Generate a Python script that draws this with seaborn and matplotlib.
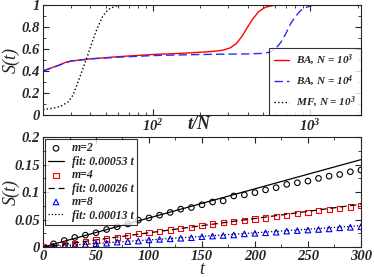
import numpy as np
import pandas as pd
import matplotlib
matplotlib.use("Agg")
import matplotlib.pyplot as plt
from matplotlib.ticker import FuncFormatter, MultipleLocator, LogLocator, NullFormatter
import seaborn as sns

# top panel: S(t) versus t/N (log axis)
t_ba3 = [20, 25, 28, 30, 40, 60, 100, 150, 200, 250, 280, 310, 340, 370, 400, 430, 470, 520, 600, 2000]
s_ba3 = [0.40, 0.45, 0.48, 0.49, 0.51, 0.53, 0.55, 0.56, 0.57, 0.58, 0.59, 0.61, 0.65, 0.72, 0.80, 0.87, 0.94, 0.98, 1.0, 1.0]
t_ba4 = [20, 25, 30, 40, 60, 100, 200, 400, 500, 550, 600, 650, 700, 750, 800, 870, 950, 1050, 2000]
s_ba4 = [0.40, 0.45, 0.49, 0.51, 0.525, 0.54, 0.55, 0.555, 0.56, 0.57, 0.60, 0.66, 0.74, 0.83, 0.89, 0.95, 0.98, 1.0, 1.0]
t_mf = [20, 23, 26, 29, 31, 33, 35, 38, 41, 44, 48, 52, 58, 65, 100]
s_mf = [0.05, 0.06, 0.08, 0.12, 0.18, 0.28, 0.38, 0.52, 0.66, 0.78, 0.90, 0.96, 0.99, 1.0, 1.0]

# bottom panel: short time behaviour
t_pts = list(range(0, 301, 10))
s_m2 = [0, 0.006, 0.012, 0.0175, 0.0217, 0.026, 0.032, 0.037, 0.042, 0.049, 0.053, 0.058, 0.063,
        0.069, 0.072, 0.077, 0.082, 0.084, 0.093, 0.095, 0.099, 0.104, 0.108, 0.114, 0.117, 0.120,
        0.125, 0.129, 0.132, 0.137, 0.140]
s_m4 = [0, 0.002, 0.005, 0.007, 0.010, 0.013, 0.016, 0.018, 0.021, 0.024, 0.026, 0.029, 0.031,
        0.034, 0.036, 0.039, 0.042, 0.044, 0.046, 0.049, 0.051, 0.053, 0.056, 0.058, 0.061, 0.063,
        0.066, 0.068, 0.070, 0.073, 0.075]
s_m8 = [0, 0.001, 0.002, 0.003, 0.005, 0.006, 0.007, 0.009, 0.010, 0.011, 0.013, 0.014, 0.015,
        0.016, 0.017, 0.019, 0.020, 0.021, 0.022, 0.024, 0.025, 0.026, 0.027, 0.029, 0.030, 0.031,
        0.032, 0.033, 0.035, 0.036, 0.037]
slopes = [0.00053, 0.00026, 0.00013]
t_fit = [0, 300]

sns.set_style("ticks")
plt.rcParams['font.family'] = ['Liberation Serif', 'DejaVu Serif']
plt.rcParams['font.weight'] = 'bold'
plt.rcParams['font.style'] = 'italic'
plt.rcParams['mathtext.fontset'] = 'custom'
plt.rcParams['mathtext.rm'] = 'Liberation Serif:italic:bold'
plt.rcParams['mathtext.it'] = 'Liberation Serif:italic:bold'
plt.rcParams['mathtext.bf'] = 'Liberation Serif:italic:bold'
plt.rcParams['xtick.direction'] = 'in'
plt.rcParams['ytick.direction'] = 'in'
plt.rcParams['axes.linewidth'] = 0.8

fig = plt.figure(figsize=(3.74, 2.77), dpi=100)
ax1 = fig.add_axes([0.115, 0.585, 0.85, 0.397])
ax2 = fig.add_axes([0.115, 0.108, 0.85, 0.397])

sns.lineplot(x=t_ba3, y=s_ba3, ax=ax1, color='red', lw=1.0, label=r'BA, N = 10$^3$', estimator=None)
sns.lineplot(x=t_ba4, y=s_ba4, ax=ax1, color='#2a2aff', lw=1.0, label=r'BA, N = 10$^4$', estimator=None)
ax1.lines[-1].set_dashes([6, 3])
sns.lineplot(x=t_mf, y=s_mf, ax=ax1, color='black', lw=1.0, label=r'MF, N = 10$^3$', estimator=None)
ax1.lines[-1].set_linestyle(':')
ax1.set_xscale('log')
ax1.set_xlim(20, 2100)
ax1.set_ylim(0, 1)
ax1.yaxis.set_major_locator(MultipleLocator(0.2))
ax1.yaxis.set_minor_locator(MultipleLocator(0.1))
ax1.yaxis.set_major_formatter(FuncFormatter(lambda v, p: '%g' % round(v, 2)))
ax1.xaxis.set_minor_locator(LogLocator(base=10, subs=np.arange(2, 10)))
ax1.xaxis.set_minor_formatter(NullFormatter())
ax1.tick_params(which='both', top=True, right=True, labelsize=10.5, pad=2)
ax1.tick_params(which='major', length=4)
ax1.tick_params(which='minor', length=2)
ax1.set_ylabel('S(t)', fontsize=13, va='center')
ax1.yaxis.set_label_coords(-0.1, 0.5)
ax1.set_xlabel('')
ax1.text(0.49, -0.09, 't/N', transform=ax1.transAxes, ha='center', va='center', fontsize=13)
leg1 = ax1.legend(loc='lower right', fontsize=8, frameon=True, fancybox=False, edgecolor='black',
                  borderaxespad=0, handlelength=1.4, handletextpad=0.6, labelspacing=0.55,
                  borderpad=0.45)
leg1.get_frame().set_linewidth(0.8)

# bottom panel
sns.scatterplot(x=t_pts, y=s_m2, ax=ax2, marker='o', s=16, facecolor='none', edgecolor='black',
                linewidth=0.8, label='m=2')
sns.lineplot(x=t_fit, y=[slopes[0] * v for v in t_fit], ax=ax2, color='black', lw=0.9,
             label='fit: 0.00053 t')
sns.scatterplot(x=t_pts, y=s_m4, ax=ax2, marker='s', s=14, facecolor='none', edgecolor='red',
                linewidth=0.8, label='m=4')
sns.lineplot(x=t_fit, y=[slopes[1] * v for v in t_fit], ax=ax2, color='black', lw=0.9,
             label='fit: 0.00026 t')
ax2.lines[-1].set_dashes([5, 3])
sns.scatterplot(x=t_pts, y=s_m8, ax=ax2, marker='^', s=16, facecolor='none', edgecolor='blue',
                linewidth=0.8, label='m=8')
sns.lineplot(x=t_fit, y=[slopes[2] * v for v in t_fit], ax=ax2, color='black', lw=0.9,
             label='fit: 0.00013 t')
ax2.lines[-1].set_linestyle(':')
ax2.set_xlim(0, 300)
ax2.set_ylim(0, 0.2)
ax2.xaxis.set_major_locator(MultipleLocator(50))
ax2.xaxis.set_minor_locator(MultipleLocator(25))
ax2.yaxis.set_major_locator(MultipleLocator(0.05))
ax2.yaxis.set_minor_locator(MultipleLocator(0.025))
ax2.yaxis.set_major_formatter(FuncFormatter(lambda v, p: '%g' % round(v, 3)))
ax2.tick_params(which='both', top=True, right=True, labelsize=10.5, pad=2)
ax2.tick_params(which='major', length=4)
ax2.tick_params(which='minor', length=2)
ax2.set_ylabel('S(t)', fontsize=13, va='center')
ax2.yaxis.set_label_coords(-0.1, 0.5)
ax2.set_xlabel('t', fontsize=13, labelpad=-1)

h, l = ax2.get_legend_handles_labels()
order = ['m=2', 'fit: 0.00053 t', 'm=4', 'fit: 0.00026 t', 'm=8', 'fit: 0.00013 t']
hh = [h[l.index(o)] for o in order]
leg2 = ax2.legend(hh, order, loc='upper left', fontsize=8.5, frameon=True, fancybox=False,
                  edgecolor='black', borderaxespad=0.15, handlelength=1.3, handletextpad=0.7,
                  labelspacing=0.12, borderpad=0.3)
leg2.get_frame().set_linewidth(0.8)

fig.savefig('out.png', dpi=100)
